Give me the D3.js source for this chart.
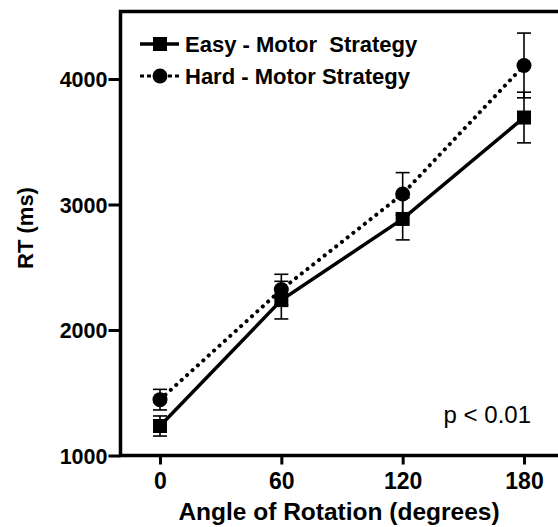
<!DOCTYPE html>
<html><head><meta charset="utf-8">
<script src="https://cdn.jsdelivr.net/npm/d3@7/dist/d3.min.js"></script>
<style>body{margin:0;background:#fff}svg{display:block}</style>
</head><body>
<script>
const angles = [0, 60, 120, 180];
const easyMean = [1235, 2238, 2885, 3693];
const easyErr  = [80, 150, 167, 202];
const hardMean = [1445, 2322, 3084, 4108];
const hardErr  = [82, 122, 170, 258];
const yTicks = [1000, 2000, 3000, 4000];
const xTicks = [0, 60, 120, 180];
const seriesNames = ["Easy - Motor\u00a0 Strategy", "Hard - Motor Strategy"];

const W = 558, H = 527;
const FONT = "'Liberation Sans', Arial, Helvetica, sans-serif";
const svg = d3.select("body").append("svg").attr("width", W).attr("height", H);

const x = d3.scaleLinear().domain([0, 180]).range([160, 524]);
const y = d3.scaleLinear().domain([1000, 4000]).range([455.5, 79]);
const frameLeft = 120.5, frameTop = 11.5;

// frame
svg.append("path").attr("d", `M${W+5},${frameTop}H${frameLeft}V${y(1000)}H${W+5}`)
  .attr("fill", "none").attr("stroke", "#000").attr("stroke-width", 3.5);

// y axis ticks
const ya = svg.append("g").attr("transform", `translate(${frameLeft},0)`)
  .call(d3.axisLeft(y).tickValues(yTicks).tickSize(12).tickPadding(1).tickFormat(d3.format("d")));
ya.select(".domain").remove();
ya.selectAll(".tick line").attr("stroke-width", 3);
ya.selectAll(".tick text").attr("font-family", FONT).attr("font-weight", "bold")
  .attr("font-size", 21.5).attr("fill", "#000").attr("dy", "0.36em");

// x axis ticks
const xa = svg.append("g").attr("transform", `translate(0,${y(1000)})`)
  .call(d3.axisBottom(x).tickValues(xTicks).tickSize(9).tickPadding(8));
xa.select(".domain").remove();
xa.selectAll(".tick line").attr("stroke-width", 3);
xa.selectAll(".tick text").attr("font-family", FONT).attr("font-weight", "bold")
  .attr("font-size", 23).attr("fill", "#000");

// axis titles
svg.append("text").attr("x", 339).attr("y", 520).attr("text-anchor", "middle")
  .attr("font-family", FONT).attr("font-weight", "bold").attr("font-size", 24.5).text("Angle of Rotation (degrees)");
svg.append("text").attr("transform", "translate(33,228) rotate(-90)").attr("text-anchor", "middle")
  .attr("font-family", FONT).attr("font-weight", "bold").attr("font-size", 22).text("RT (ms)");

// p value
svg.append("text").attr("x", 531).attr("y", 423).attr("text-anchor", "end")
  .attr("font-family", FONT).attr("font-size", 24).text("p < 0.01");

const series = [
  {mean: easyMean, err: easyErr, dash: null, marker: "square"},
  {mean: hardMean, err: hardErr, dash: "0.1,7.2", marker: "circle"}
];

const line = d3.line().x((d, i) => x(angles[i])).y(d => y(d));

// error bars
series.forEach(s => {
  const g = svg.append("g").attr("stroke", "#000").attr("stroke-width", 1.6);
  s.mean.forEach((m, i) => {
    const cx = x(angles[i]);
    g.append("line").attr("x1", cx).attr("x2", cx).attr("y1", y(m - s.err[i])).attr("y2", y(m + s.err[i]));
    [m - s.err[i], m + s.err[i]].forEach(v => {
      g.append("line").attr("x1", cx - 7).attr("x2", cx + 7).attr("y1", y(v)).attr("y2", y(v));
    });
  });
});

// lines
series.forEach(s => {
  const p = svg.append("path").attr("d", line(s.mean)).attr("fill", "none").attr("stroke", "#000");
  if (s.dash) p.attr("stroke-width", 4).attr("stroke-dasharray", s.dash).attr("stroke-linecap", "round");
  else p.attr("stroke-width", 3.5);
});

// markers
function marker(g, type, cx, cy, size) {
  if (type === "square") g.append("rect").attr("x", cx - size/2).attr("y", cy - size/2).attr("width", size).attr("height", size).attr("fill", "#000");
  else g.append("circle").attr("cx", cx).attr("cy", cy).attr("r", size/2).attr("fill", "#000");
}
series.forEach(s => {
  const g = svg.append("g");
  s.mean.forEach((m, i) => marker(g, s.marker, x(angles[i]), y(m), s.marker === "square" ? 14 : 15));
});

// legend
const legY = [44, 76];
series.forEach((s, i) => {
  const g = svg.append("g");
  const l = g.append("line").attr("x1", 140).attr("x2", 179).attr("y1", legY[i]).attr("y2", legY[i]).attr("stroke", "#000");
  if (s.dash) l.attr("stroke-width", 3).attr("stroke-dasharray", "4,3");
  else l.attr("stroke-width", 3.5);
  marker(g, s.marker, 160, legY[i], s.marker === "square" ? 14 : 15);
  g.append("text").attr("x", 185).attr("y", legY[i] + 8).attr("font-family", FONT).attr("font-weight", "bold")
    .attr("font-size", 22).text(seriesNames[i]);
});
</script>
</body></html>
